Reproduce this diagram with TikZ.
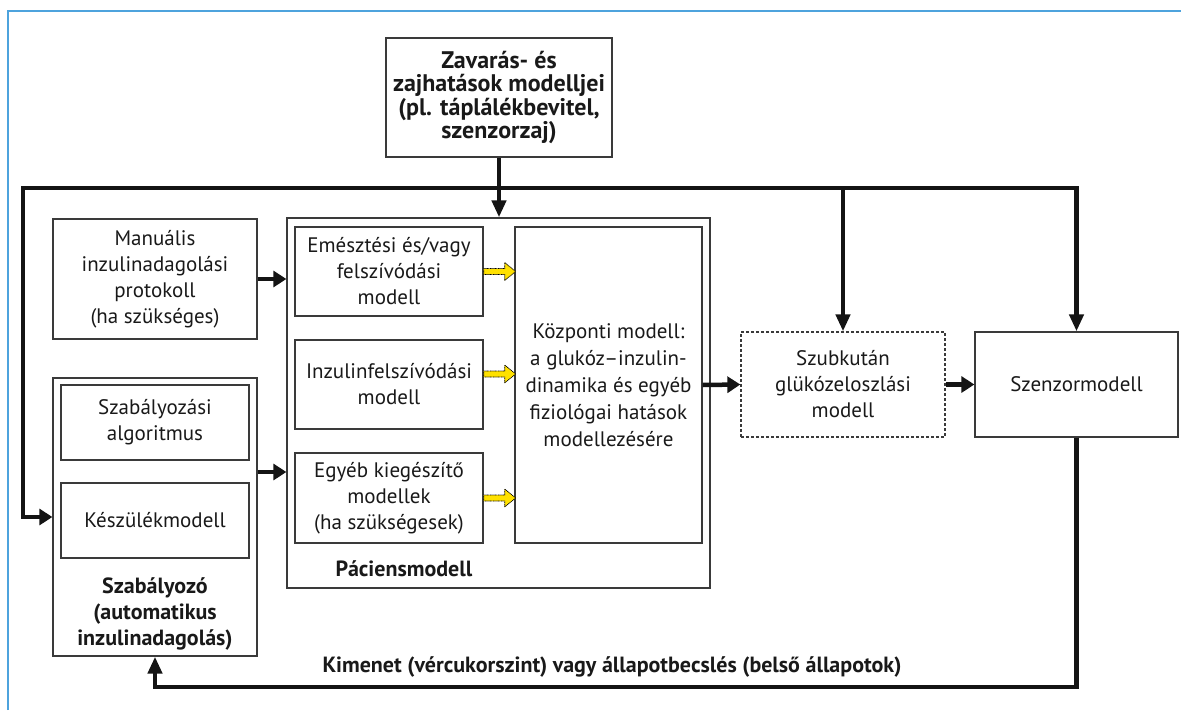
\documentclass[tikz,border=0pt]{standalone}
\usepackage{fontspec}
\setmainfont{PT Sans}
\usetikzlibrary{arrows.meta}
\definecolor{frameblue}{HTML}{4DA3DD}
\definecolor{boxgray}{HTML}{3A3A3A}
\definecolor{ylw}{HTML}{FFE100}
\begin{document}
\begin{tikzpicture}[x=1pt,y=-1pt,
  txt/.style={font=\fontsize{21}{26}\selectfont, align=center, text=black!90},
  btxt/.style={font=\fontsize{22}{26}\selectfont\bfseries, align=center, text=black!90},
  box/.style={draw=boxgray, line width=1.3pt, inner sep=0pt, txt},
  dbox/.style={box, dash pattern=on 3pt off 2pt},
  arr/.style={line width=4.5pt, draw=black!92, -{Triangle[length=13pt,width=16pt]}},
  varr/.style={line width=4.5pt, draw=black!92, -{Triangle[length=17pt,width=14pt]}},
  yarr/.style={draw=black, fill=ylw, line width=0.7pt, dash pattern=on 1pt off 0.6pt},
]
\useasboundingbox (0,0) rectangle (1181,710);
% frame
\draw[frameblue, line width=2.5pt] (8,710) -- (8,11) -- (1181,11);

% nodes
\node[box, btxt, font=\fontsize{24}{23.6}\selectfont\bfseries, minimum width=226pt, minimum height=119pt] (dist) at (499,97.5)
  {Zavarás- és\\zajhatások modelljei\\(pl. táplálékbevitel,\\szenzorzaj)};
\node[box, minimum width=204pt, minimum height=120pt] (manual) at (155,279)
  {Manuális\\inzulinadagolási\\protokoll\\(ha szükséges)};
\node[box, minimum width=204pt, minimum height=278pt] (ctrl) at (155,517) {};
\node[box, minimum width=188pt, minimum height=75pt] (algo) at (155,422.5)
  {Szabályozási\\algoritmus};
\node[box, minimum width=188pt, minimum height=75pt] (device) at (155,520.5)
  {Készülékmodell};
\node[btxt] (ctrllbl) at (155,614)
  {Szabályozó\\(automatikus\\inzulinadagolás)};

\node[box, minimum width=423pt, minimum height=370pt] (patient) at (498.5,403) {};
\node[box, minimum width=188pt, minimum height=89pt] (emes) at (389,271.5)
  {Emésztési és/vagy\\felszívódási\\modell};
\node[box, minimum width=188pt, minimum height=89pt] (inzf) at (389,384.5)
  {Inzulinfelszívódási\\modell};
\node[box, minimum width=188pt, minimum height=90pt] (egyeb) at (389,498)
  {Egyéb kiegészítő\\modellek\\(ha szükségesek)};
\node[box, font=\fontsize{21}{27}\selectfont, minimum width=187pt, minimum height=316pt] (central) at (608.5,385)
  {Központi modell:\\a glukóz--inzulin-\\dinamika és egyéb\\fiziológai hatások\\modellezésére};
\node[btxt] (patlbl) at (404,569) {Páciensmodell};

\node[dbox, minimum width=204pt, minimum height=105pt] (subq) at (843,384.5)
  {Szubkután\\glükózeloszlási\\modell};
\node[box, minimum width=203pt, minimum height=105pt] (sensor) at (1076.5,384.5)
  {Szenzormodell};

\node[btxt] (outlbl) at (612,667)
  {Kimenet (vércukorszint) vagy állapotbecslés (belső állapotok)};

% coordinates
\coordinate (busL) at (23,188);
\coordinate (busR) at (1076.5,188);
\coordinate (fbL) at (155,687);
\coordinate (cin) at ([yshift=45pt]ctrl.east);

% connectors
\draw[varr] (dist.south) -- (dist.south |- patient.north);
\draw[arr] (busR) -- (busL) -- (busL |- ctrl.west) -- (ctrl.west);
\draw[varr, line cap=rect] (busR) -- (sensor.north);
\draw[varr] (subq.north |- busL) -- (subq.north);
\draw[arr] (manual.east) -- (manual.east -| patient.west);
\draw[arr] (cin) -- (cin -| patient.west);
\draw[arr] (central.east) -- (subq.west);
\draw[arr] (subq.east) -- (sensor.west);
\draw[varr] (sensor.south) |- (fbL) -- (ctrl.south);

% yellow arrows
\draw[yarr] (emes.east) ++(0,-3) -- ++(21,0) -- ++(0,-6) -- ++(11,9) -- ++(-11,9) -- ++(0,-6) -- ++(-21,0) -- cycle;
\draw[yarr] ([yshift=10.5pt]inzf.east) ++(0,-3) -- ++(21,0) -- ++(0,-6) -- ++(11,9) -- ++(-11,9) -- ++(0,-6) -- ++(-21,0) -- cycle;
\draw[yarr] (egyeb.east) ++(0,-3) -- ++(21,0) -- ++(0,-6) -- ++(11,9) -- ++(-11,9) -- ++(0,-6) -- ++(-21,0) -- cycle;
\end{tikzpicture}
\end{document}
